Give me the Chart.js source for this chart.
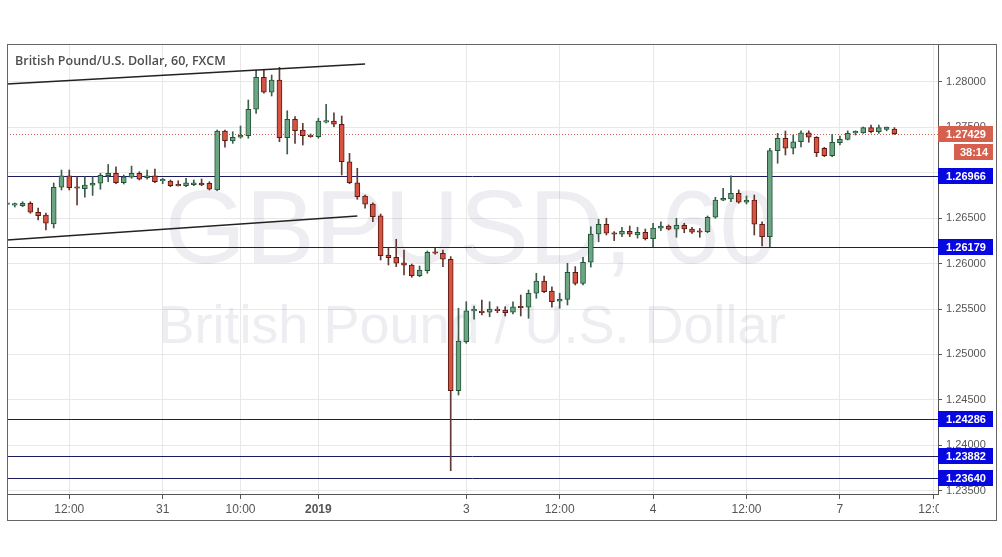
<!DOCTYPE html>
<html>
<head>
<meta charset="utf-8">
<script src="https://cdn.jsdelivr.net/npm/chart.js@4.4.1/dist/chart.umd.min.js"></script>
<style>
  html, body { margin: 0; padding: 0; background: #fff; }
  #wrap { width: 1002px; height: 557px; }
</style>
</head>
<body>
<div id="wrap"><canvas id="fx" width="1002" height="557"></canvas></div>
<script>
// GBP/USD, 60 min candles
const opens = [
  1.26650, 1.26642, 1.26636, 1.26663, 1.26564, 1.26534, 1.26435, 1.26839, 1.26966, 1.26839,
  1.26824, 1.26861, 1.26883, 1.26966, 1.26993, 1.26889, 1.26949, 1.26993, 1.26944, 1.26966,
  1.26910, 1.26908, 1.26857, 1.26856, 1.26867, 1.26886, 1.26883, 1.26809, 1.27458, 1.27348,
  1.27389, 1.27407, 1.27697, 1.28049, 1.27884, 1.28019, 1.27384, 1.27587, 1.27469, 1.27411,
  1.27396, 1.27556, 1.27568, 1.27532, 1.27120, 1.26889, 1.26743, 1.26655, 1.26526, 1.26094,
  1.26069, 1.26009, 1.25984, 1.25866, 1.25921, 1.26124, 1.26113, 1.26047, 1.24601, 1.25141,
  1.25480, 1.25478, 1.25464, 1.25497, 1.25489, 1.25464, 1.25525, 1.25519, 1.25673, 1.25808,
  1.25698, 1.25585, 1.25606, 1.25904, 1.25782, 1.26014, 1.26325, 1.26432, 1.26333, 1.26322,
  1.26355, 1.26314, 1.26344, 1.26273, 1.26388, 1.26413, 1.26377, 1.26421, 1.26380, 1.26350,
  1.26350, 1.26509, 1.26696, 1.26710, 1.26773, 1.26674, 1.26699, 1.26432, 1.26296, 1.27242,
  1.27378, 1.27268, 1.27340, 1.27438, 1.27389, 1.27268, 1.27186, 1.27329, 1.27366, 1.27437,
  1.27438, 1.27496, 1.27450, 1.27475, 1.27479
];
const highs = [
  1.26672, 1.26666, 1.26680, 1.26680, 1.26611, 1.26556, 1.26886, 1.27029, 1.27029, 1.26955,
  1.26955, 1.26955, 1.26993, 1.27090, 1.27064, 1.26974, 1.27072, 1.27010, 1.27029, 1.27040,
  1.26938, 1.26919, 1.26911, 1.26938, 1.26919, 1.26930, 1.26900, 1.27469, 1.27469, 1.27450,
  1.27513, 1.27799, 1.28129, 1.28129, 1.28074, 1.28159, 1.27681, 1.27616, 1.27542, 1.27425,
  1.27598, 1.27752, 1.27658, 1.27623, 1.27212, 1.27048, 1.26754, 1.26669, 1.26545, 1.26168,
  1.26267, 1.26149, 1.25995, 1.25973, 1.26138, 1.26168, 1.26149, 1.26076, 1.25508, 1.25580,
  1.25533, 1.25599, 1.25580, 1.25525, 1.25525, 1.25580, 1.25654, 1.25709, 1.25893, 1.25863,
  1.25745, 1.25673, 1.26003, 1.25966, 1.26069, 1.26405, 1.26487, 1.26498, 1.26351, 1.26399,
  1.26413, 1.26399, 1.26380, 1.26443, 1.26460, 1.26424, 1.26498, 1.26443, 1.26399, 1.26386,
  1.26523, 1.26729, 1.26828, 1.26966, 1.26809, 1.26743, 1.26754, 1.26460, 1.27268, 1.27432,
  1.27458, 1.27414, 1.27460, 1.27460, 1.27396, 1.27279, 1.27421, 1.27403, 1.27460, 1.27460,
  1.27502, 1.27524, 1.27524, 1.27502, 1.27496
];
const lows = [
  1.26633, 1.26622, 1.26625, 1.26553, 1.26479, 1.26369, 1.26391, 1.26809, 1.26809, 1.26644,
  1.26729, 1.26749, 1.26817, 1.26900, 1.26878, 1.26875, 1.26938, 1.26919, 1.26927, 1.26889,
  1.26878, 1.26845, 1.26853, 1.26845, 1.26856, 1.26856, 1.26809, 1.26801, 1.27279, 1.27322,
  1.27378, 1.27378, 1.27652, 1.27873, 1.27843, 1.27340, 1.27205, 1.27322, 1.27304, 1.27389,
  1.27378, 1.27546, 1.27505, 1.26974, 1.26878, 1.26707, 1.26608, 1.26460, 1.26039, 1.25984,
  1.25966, 1.25876, 1.25849, 1.25855, 1.25893, 1.26102, 1.25966, 1.23721, 1.24554, 1.25123,
  1.25387, 1.25434, 1.25415, 1.25459, 1.25423, 1.25445, 1.25423, 1.25398, 1.25618, 1.25679,
  1.25519, 1.25508, 1.25544, 1.25764, 1.25764, 1.25961, 1.26240, 1.26314, 1.26252, 1.26296,
  1.26296, 1.26280, 1.26259, 1.26185, 1.26361, 1.26369, 1.26289, 1.26339, 1.26332, 1.26289,
  1.26339, 1.26498, 1.26691, 1.26680, 1.26663, 1.26655, 1.26314, 1.26193, 1.26185, 1.27103,
  1.27194, 1.27205, 1.27282, 1.27334, 1.27176, 1.27176, 1.27176, 1.27304, 1.27359, 1.27414,
  1.27432, 1.27438, 1.27432, 1.27460, 1.27420
];
const closes = [
  1.26660, 1.26646, 1.26663, 1.26564, 1.26526, 1.26443, 1.26839, 1.26966, 1.26834, 1.26828,
  1.26864, 1.26886, 1.26971, 1.26993, 1.26889, 1.26955, 1.26993, 1.26927, 1.26966, 1.26900,
  1.26912, 1.26856, 1.26855, 1.26889, 1.26889, 1.26864, 1.26817, 1.27458, 1.27352, 1.27389,
  1.27414, 1.27697, 1.28049, 1.27884, 1.28019, 1.27384, 1.27587, 1.27462, 1.27407, 1.27396,
  1.27568, 1.27562, 1.27532, 1.27120, 1.26889, 1.26736, 1.26652, 1.26515, 1.26086, 1.26064,
  1.26003, 1.25983, 1.25866, 1.25929, 1.26124, 1.26113, 1.26047, 1.24601, 1.25148, 1.25481,
  1.25482, 1.25459, 1.25500, 1.25482, 1.25459, 1.25525, 1.25514, 1.25673, 1.25808, 1.25690,
  1.25580, 1.25610, 1.25904, 1.25782, 1.26014, 1.26325, 1.26432, 1.26333, 1.26322, 1.26355,
  1.26322, 1.26344, 1.26273, 1.26391, 1.26413, 1.26377, 1.26421, 1.26380, 1.26344, 1.26344,
  1.26509, 1.26699, 1.26718, 1.26773, 1.26674, 1.26699, 1.26432, 1.26296, 1.27242, 1.27378,
  1.27268, 1.27340, 1.27438, 1.27389, 1.27219, 1.27186, 1.27334, 1.27366, 1.27432, 1.27439,
  1.27496, 1.27450, 1.27496, 1.27502, 1.27429
];

// axis labels
const xTickIndex = [8, 20, 30, 40, 59, 71, 83, 95, 107, 119];
const xTickText = ["12:00", "31", "10:00", "2019", "3", "12:00", "4", "12:00", "7", "12:00"];
const yTicks = [1.235, 1.24, 1.245, 1.25, 1.255, 1.26, 1.265, 1.27, 1.275, 1.28];

// drawings on the chart
const levels = [1.26966, 1.26179, 1.24286, 1.23882, 1.23640];
const lastPrice = 1.27429;
const countdown = "38:14";
const upperTrend = [{ x: 0, y: 1.27975 }, { x: 46, y: 1.28195 }];
const lowerTrend = [{ x: 0, y: 1.26259 }, { x: 45, y: 1.26523 }];

const UP = "#6ba583", UP_EDGE = "#225437";
const DOWN = "#d75442", DOWN_EDGE = "#5b1a13";
const isUp = (i) => closes[i] >= opens[i];
const SANS = '"Liberation Sans", Arial, sans-serif';

const wickData = opens.map((_, i) => ({ x: i, y: [lows[i], highs[i]] }));
const bodyData = opens.map((_, i) => ({ x: i, y: [opens[i], closes[i]] }));

// watermark, level lines, price tags, frame
const overlay = {
  id: "overlay",
  beforeDatasetsDraw(chart) {
    const { ctx, chartArea: a, scales: { y } } = chart;
    ctx.save();
    ctx.fillStyle = "rgba(110,110,150,0.12)";
    ctx.textAlign = "center";
    ctx.textBaseline = "alphabetic";
    ctx.font = "104px " + SANS;
    ctx.fillText("GBPUSD, 60", 471, 263);
    ctx.font = "54px " + SANS;
    ctx.fillText("British Pound / U.S. Dollar", 472, 343);

    ctx.strokeStyle = "#1c1c5c";
    ctx.lineWidth = 1;
    levels.forEach((v) => {
      const py = Math.round(y.getPixelForValue(v)) + 0.5;
      ctx.beginPath();
      ctx.moveTo(a.left, py);
      ctx.lineTo(a.right, py);
      ctx.stroke();
    });

    const lp = Math.round(y.getPixelForValue(lastPrice)) + 0.5;
    ctx.strokeStyle = "#c8604e";
    ctx.setLineDash([1, 2]);
    ctx.beginPath();
    ctx.moveTo(a.left, lp);
    ctx.lineTo(a.right, lp);
    ctx.stroke();
    ctx.restore();
  },
  afterDraw(chart) {
    const { ctx, chartArea: a, scales: { y } } = chart;
    ctx.save();
    // blank corner under the price axis
    ctx.fillStyle = "#fff";
    ctx.fillRect(a.right + 1, a.bottom + 1, 996 - a.right - 1, 520 - a.bottom - 1);

    ctx.textAlign = "center";
    ctx.textBaseline = "middle";
    ctx.font = "bold 11px " + SANS;
    levels.forEach((v) => {
      const py = Math.round(y.getPixelForValue(v));
      ctx.fillStyle = "#0707e0";
      ctx.fillRect(a.right, py - 8, 55, 16);
      ctx.fillStyle = "#fff";
      ctx.fillText(v.toFixed(5), a.right + 28, py + 1);
    });
    const lp = Math.round(y.getPixelForValue(lastPrice));
    ctx.fillStyle = "#d6604d";
    ctx.fillRect(a.right, lp - 8, 55, 16);
    ctx.fillRect(a.right + 16, lp + 10, 39, 16);
    ctx.fillStyle = "#fff";
    ctx.fillText(lastPrice.toFixed(5), a.right + 28, lp + 1);
    ctx.fillText(countdown, a.right + 36, lp + 19);

    ctx.textAlign = "left";
    ctx.fillStyle = "#4d4d4d";
    ctx.font = '600 12.5px "Open Sans", ' + SANS;
    ctx.fillText("British Pound/U.S. Dollar, 60, FXCM", 15, 61);

    ctx.strokeStyle = "#666";
    ctx.lineWidth = 1;
    ctx.strokeRect(7.5, 44.5, 989, 476);
    ctx.restore();
  }
};

new Chart(document.getElementById("fx"), {
  type: "bar",
  data: {
    datasets: [
      {
        type: "line", data: upperTrend, borderColor: "#222", borderWidth: 1.3,
        pointRadius: 0, order: 0
      },
      {
        type: "line", data: lowerTrend, borderColor: "#222", borderWidth: 1.3,
        pointRadius: 0, order: 0
      },
      {
        data: bodyData, grouped: false, barThickness: 5, minBarLength: 1.5,
        borderWidth: 1, borderSkipped: false,
        backgroundColor: (c) => (isUp(c.dataIndex) ? UP : DOWN),
        borderColor: (c) => (isUp(c.dataIndex) ? UP_EDGE : DOWN_EDGE),
        order: 1
      },
      {
        data: wickData, grouped: false, barThickness: 1,
        backgroundColor: (c) => (isUp(c.dataIndex) ? "#3c5e4a" : "#5e3a34"),
        order: 2
      }
    ]
  },
  options: {
    responsive: false,
    animation: false,
    devicePixelRatio: 1,
    layout: { padding: { top: 44, left: 7, right: 6, bottom: 37 } },
    plugins: { legend: { display: false }, tooltip: { enabled: false } },
    scales: {
      x: {
        type: "linear",
        offset: false,
        min: 0,
        max: 119.6,
        afterBuildTicks: (s) => { s.ticks = xTickIndex.map((v) => ({ value: v })); },
        afterFit: (s) => { s.height = 26; },
        ticks: {
          autoSkip: false,
          maxRotation: 0,
          padding: 3,
          color: "#555",
          font: (c) => ({
            family: '"Liberation Sans Narrow", ' + SANS,
            size: 12,
            weight: c.tick && c.tick.value === 40 ? "bold" : "normal"
          }),
          callback: (v) => xTickText[xTickIndex.indexOf(v)]
        },
        grid: { color: "#e8e8e8", tickColor: "#555", tickLength: 5, offset: false },
        border: { color: "#555" }
      },
      y: {
        position: "right",
        min: 1.23465,
        max: 1.28415,
        afterBuildTicks: (s) => { s.ticks = yTicks.map((v) => ({ value: v })); },
        afterFit: (s) => { s.width = 58; },
        ticks: {
          padding: 4,
          color: "#555",
          font: { family: SANS, size: 11 },
          callback: (v) => v.toFixed(5)
        },
        grid: { color: "#e8e8e8", tickColor: "#555", tickLength: 4 },
        border: { color: "#555" }
      }
    }
  },
  plugins: [overlay]
});
</script>
</body>
</html>
